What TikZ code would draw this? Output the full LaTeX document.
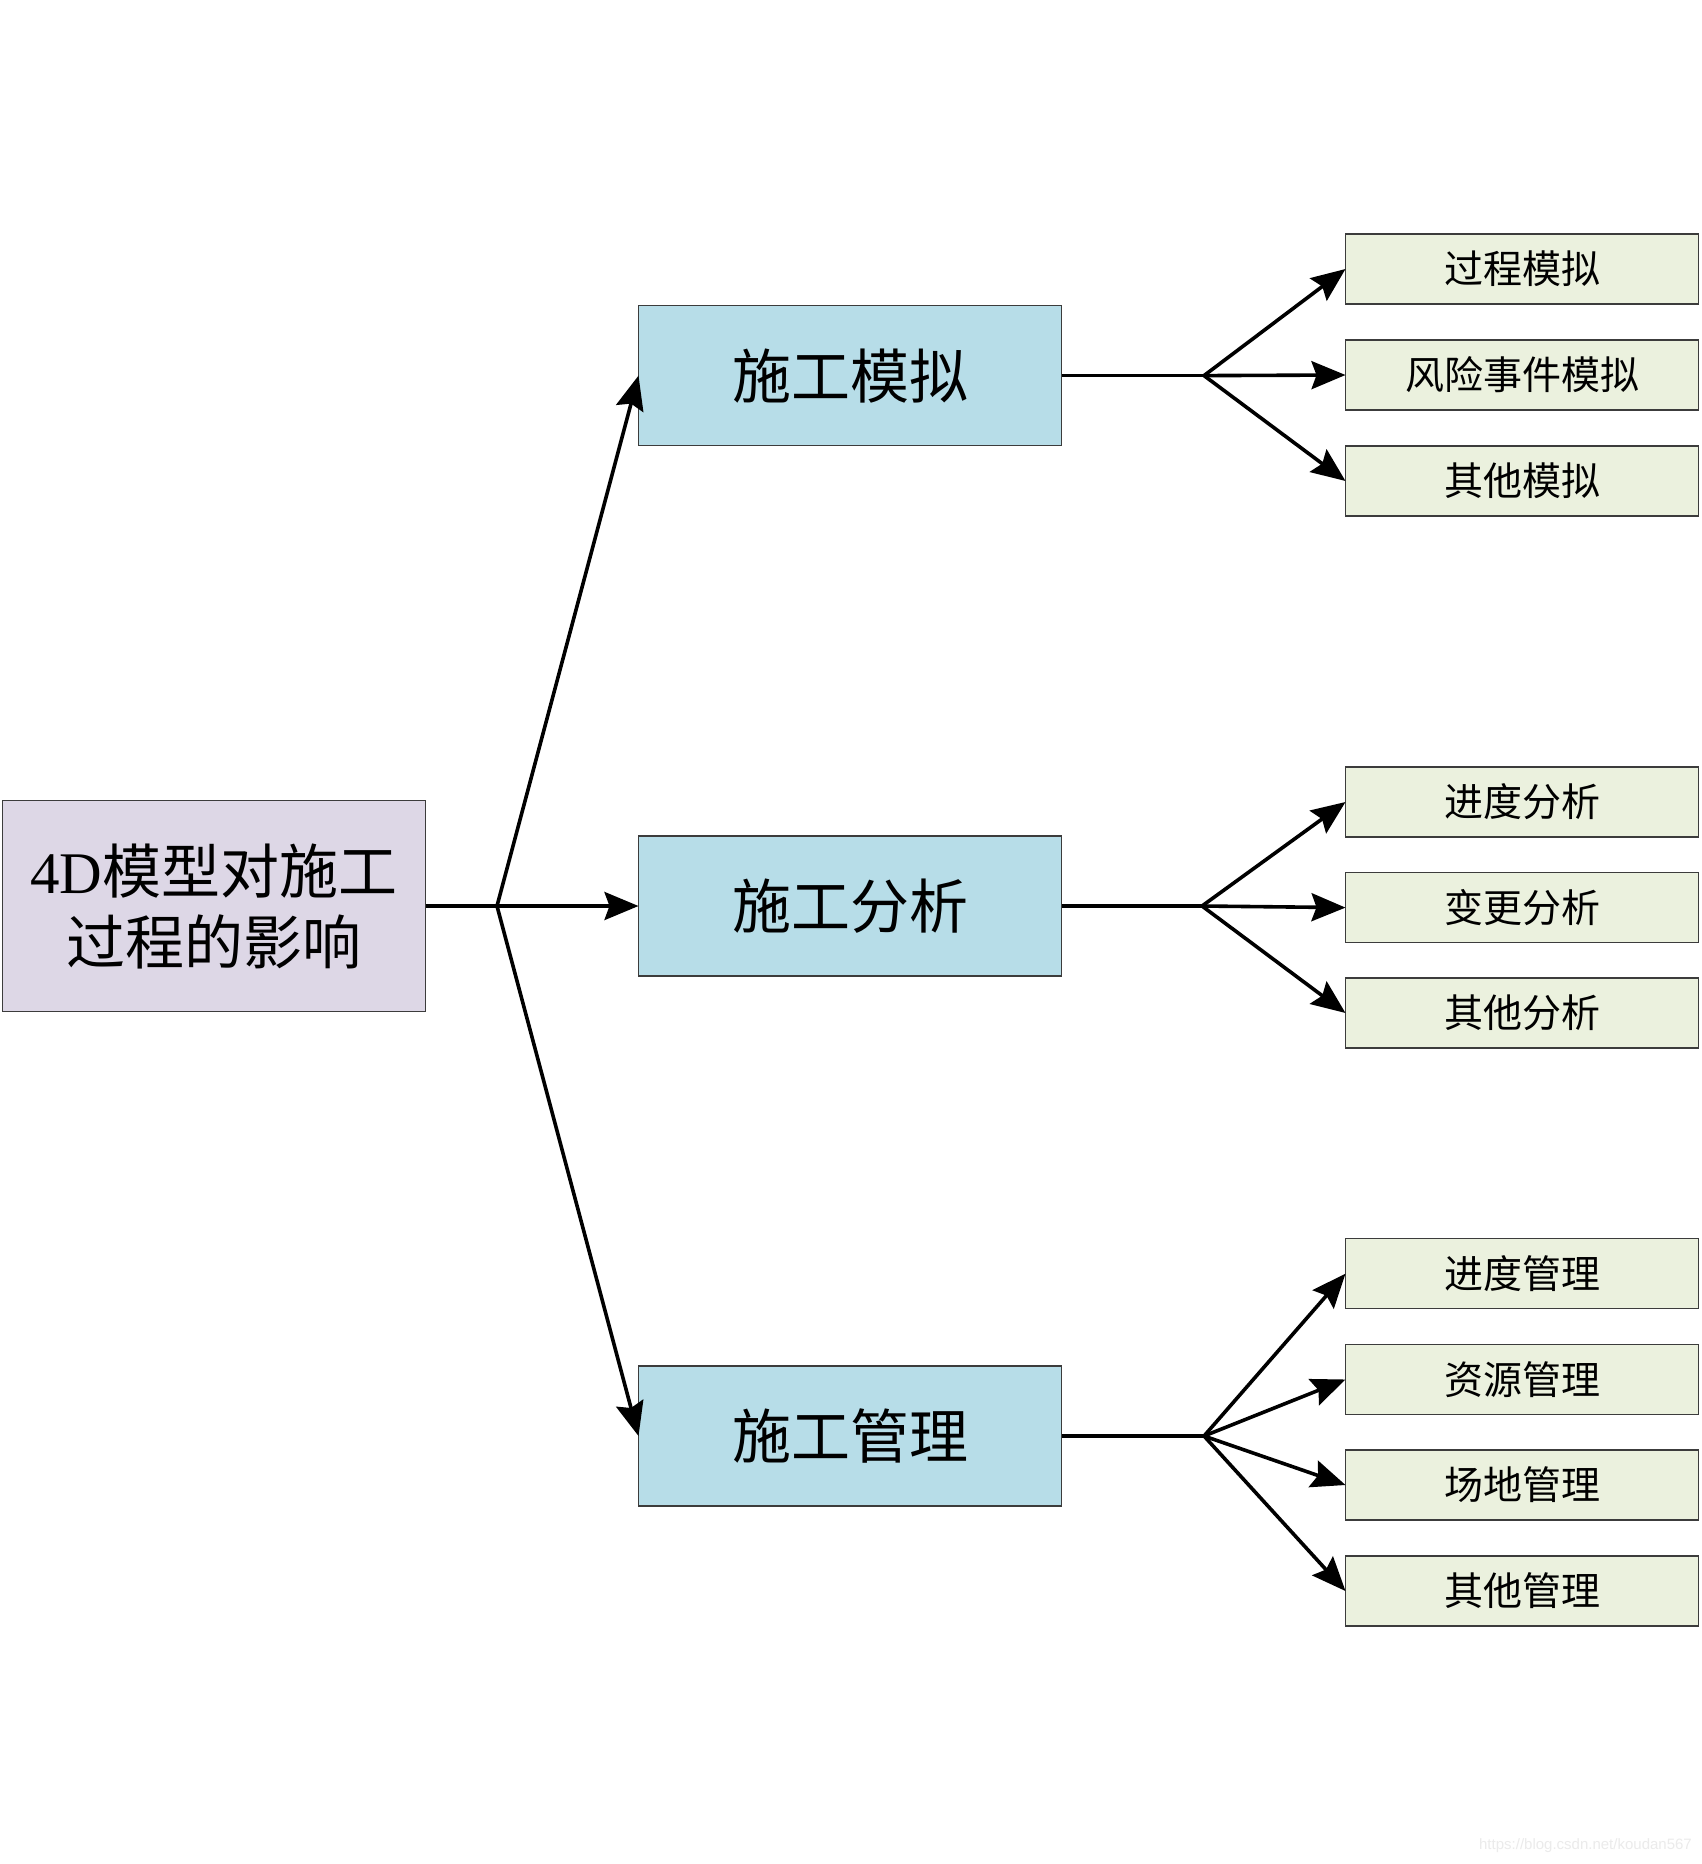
\documentclass[tikz,border=0pt]{standalone}
\usepackage{fontspec}
\setmainfont{Noto Sans CJK SC}
\newfontfamily\latinserif{Liberation Serif}
\newfontfamily\wmfont{Liberation Sans}
\usetikzlibrary{arrows.meta}
\definecolor{rootfill}{RGB}{221,215,230}
\definecolor{midfill}{RGB}{183,221,232}
\definecolor{leaffill}{RGB}{235,241,222}
\definecolor{boxline}{RGB}{60,60,60}
\begin{document}
\begin{tikzpicture}[x=1pt,y=-1pt,
  rootbox/.style={draw=boxline,line width=1.2pt,fill=rootfill,minimum width=423pt,minimum height=211pt,inner sep=0pt,outer sep=0pt,align=center,font=\fontsize{59}{71}\selectfont},
  midbox/.style={draw=boxline,line width=1.2pt,fill=midfill,minimum width=423pt,minimum height=140pt,inner sep=0pt,outer sep=0pt,font=\fontsize{59}{71}\selectfont},
  leafbox/.style={draw=boxline,line width=1.2pt,fill=leaffill,minimum width=353pt,minimum height=70pt,inner sep=0pt,outer sep=0pt,font=\fontsize{39}{47}\selectfont},
  conn/.style={line width=3.6pt,line join=round},
  arr/.style={conn,-{Stealth[length=34pt,width=28pt,inset=5pt]}}
]
\useasboundingbox (0,0) rectangle (1701,1864);
\fill[white] (0,0) rectangle (1701,1864);

\node[rootbox] (root) at (214,906) {{\latinserif 4D}模型对施工\\过程的影响};
\coordinate (b0) at (497,906);

\node[midbox] (m1) at (850,375.6) {施工模拟};
\node[midbox] (m2) at (850,906) {施工分析};
\node[midbox] (m3) at (850,1436) {施工管理};

\coordinate (b1) at (1204,375.6);
\coordinate (b2) at (1202,906);
\coordinate (b3) at (1204,1436);

\node[leafbox] (l11) at (1522,269) {过程模拟};
\node[leafbox] (l12) at (1522,375) {风险事件模拟};
\node[leafbox] (l13) at (1522,481) {其他模拟};

\node[leafbox] (l21) at (1522,802) {进度分析};
\node[leafbox] (l22) at (1522,907.6) {变更分析};
\node[leafbox] (l23) at (1522,1013) {其他分析};

\node[leafbox] (l31) at (1522,1273.7) {进度管理};
\node[leafbox] (l32) at (1522,1379.5) {资源管理};
\node[leafbox] (l33) at (1522,1485) {场地管理};
\node[leafbox] (l34) at (1522,1591) {其他管理};

\draw[conn] (root.east) -- (b0);
\draw[arr] (b0) -- (m1.west);
\draw[arr] (b0) -- (m2.west);
\draw[arr] (b0) -- (m3.west);

\draw[conn] (m1.east) -- (b1);
\draw[arr] (b1) -- (l11.west);
\draw[arr] (b1) -- (l12.west);
\draw[arr] (b1) -- (l13.west);

\draw[conn] (m2.east) -- (b2);
\draw[arr] (b2) -- (l21.west);
\draw[arr] (b2) -- (l22.west);
\draw[arr] (b2) -- (l23.west);

\draw[conn] (m3.east) -- (b3);
\draw[arr] (b3) -- (l31.west);
\draw[arr] (b3) -- (l32.west);
\draw[arr] (b3) -- (l33.west);
\draw[arr] (b3) -- (l34.west);

\node[anchor=east,text=black!8,font=\wmfont\fontsize{15}{18}\selectfont,inner sep=0pt] (wm) at (1692,1846) {https://blog.csdn.net/koudan567};
\end{tikzpicture}
\end{document}
